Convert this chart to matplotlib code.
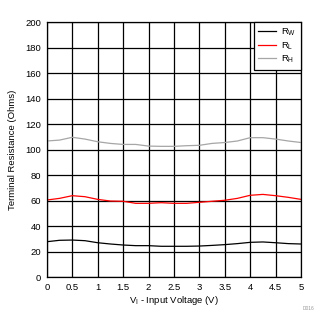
import matplotlib
matplotlib.use('Agg')
import matplotlib.pyplot as plt

plt.rcParams['font.family'] = ['Liberation Sans', 'DejaVu Sans']
plt.rcParams['mathtext.fontset'] = 'custom'
plt.rcParams['mathtext.rm'] = 'Liberation Sans'

# input voltage (V)
v_in = [0, 0.25, 0.5, 0.75, 1, 1.25, 1.5, 1.75, 2, 2.25, 2.5, 2.75,
        3, 3.25, 3.5, 3.75, 4, 4.25, 4.5, 4.75, 5]
# terminal resistances (Ohms)
r_w = [27.7, 28.8, 29.0, 28.5, 26.9, 25.9, 25.1, 24.6, 24.6, 24.1, 24.1, 24.1,
       24.3, 24.8, 25.4, 26.2, 27.2, 27.5, 26.9, 26.2, 25.9]
r_l = [60.4, 61.7, 63.8, 63.0, 60.9, 59.6, 59.4, 57.8, 57.8, 58.3, 57.8, 57.8,
       58.6, 59.4, 60.2, 61.7, 64.1, 64.8, 63.8, 62.5, 60.9]
r_h = [106.7, 107.4, 109.6, 108.2, 106.1, 104.8, 104.0, 104.0, 102.7, 102.5, 102.5, 103.0,
       103.3, 104.8, 105.5, 106.7, 109.3, 109.3, 108.2, 106.7, 105.5]

fig = plt.figure(figsize=(3.30, 3.29), dpi=100)
ax = fig.add_axes([0.142, 0.158, 0.770, 0.775])

ax.plot(v_in, r_w, color='black', lw=0.9, label=r'R$_\mathrm{W}$')
ax.plot(v_in, r_l, color='#ff0000', lw=0.9, label=r'R$_\mathrm{L}$')
ax.plot(v_in, r_h, color='#a6a6a6', lw=0.9, label=r'R$_\mathrm{H}$')

ax.set_xlim(0, 5)
ax.set_ylim(0, 200)
ax.set_xticks([0, 0.5, 1, 1.5, 2, 2.5, 3, 3.5, 4, 4.5, 5])
ax.set_xticklabels(['0', '0.5', '1', '1.5', '2', '2.5', '3', '3.5', '4', '4.5', '5'])
ax.set_yticks(range(0, 201, 20))
ax.grid(True, color='black', lw=0.9)
ax.tick_params(labelsize=6.8, length=0, pad=4, colors='black')
for s in ax.spines.values():
    s.set_linewidth(0.9)

ax.set_xlabel(r'V$_\mathrm{I}$ - Input Voltage (V)', fontsize=6.8, labelpad=2)
ax.set_ylabel('Terminal Resistance (Ohms)', fontsize=6.8, labelpad=6)

leg = ax.legend(loc='upper right', fontsize=6.8, frameon=True, fancybox=False,
                borderaxespad=0, handlelength=1.9, handletextpad=0.5,
                labelspacing=0.2, borderpad=0.5)
leg.get_frame().set_edgecolor('black')
leg.get_frame().set_linewidth(0.9)
leg.get_frame().set_alpha(1)

fig.text(0.935, 0.058, 'D016', fontsize=3.5, color='#999999', ha='center')

plt.savefig('out.png', dpi=100)
